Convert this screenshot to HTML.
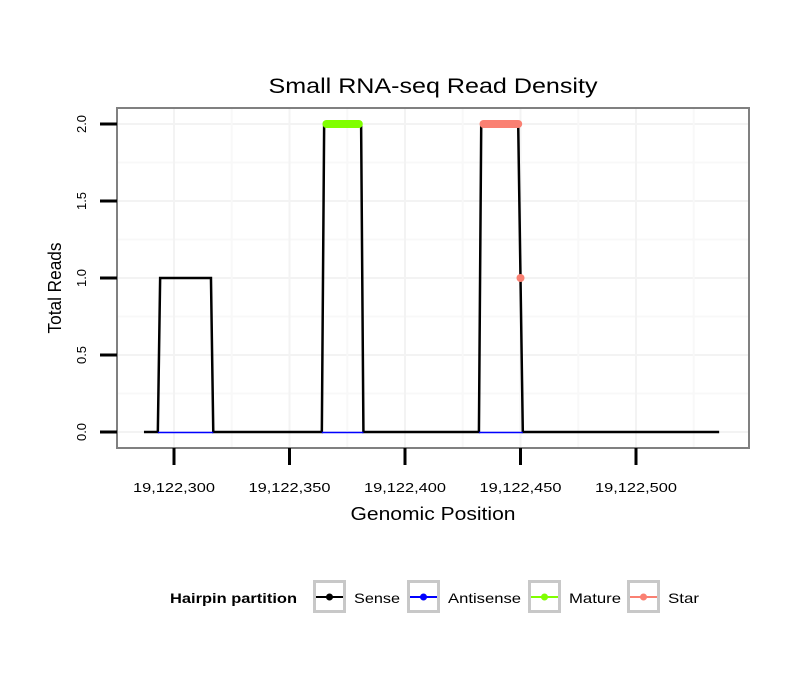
<!DOCTYPE html>
<html><head><meta charset="utf-8"><style>
body{margin:0;background:#fff}
svg text{font-family:"Liberation Sans",sans-serif}
</style></head><body>
<svg width="810" height="690" xmlns="http://www.w3.org/2000/svg">
<rect width="810" height="690" fill="#fff"/>
<text x="433" y="93" font-size="21" text-anchor="middle" textLength="329" lengthAdjust="spacingAndGlyphs">Small RNA-seq Read Density</text>
<g id="grid"></g>
<g id="marks"></g>
<rect x="117" y="108" width="632" height="340" fill="none" stroke="#808080" stroke-width="2"/>
<g id="axes"></g>
<text x="433" y="520" font-size="18" text-anchor="middle" textLength="165" lengthAdjust="spacingAndGlyphs">Genomic Position</text>
<text transform="translate(61,288) rotate(-90)" font-size="18" text-anchor="middle" textLength="91" lengthAdjust="spacingAndGlyphs">Total Reads</text>
<g>
<text x="170" y="603" font-size="14" font-weight="bold" textLength="127" lengthAdjust="spacingAndGlyphs">Hairpin partition</text>
<g id="legend"></g>
</g>
</svg>
<script>
const xTicks=[19122300,19122350,19122400,19122450,19122500];
const xTickLabels=["19,122,300","19,122,350","19,122,400","19,122,450","19,122,500"];
const yTicks=[0,0.5,1,1.5,2];
const yTickLabels=["0.0","0.5","1.0","1.5","2.0"];
const senseX=[19122287,19122293,19122294,19122316,19122317,19122364,19122365,19122381,19122382,19122432,19122433,19122449,19122450,19122451,19122536];
const senseY=[0,0,1,1,0,0,2,2,0,0,2,2,1,0,0];
const antisenseSegs=[[19122293,19122317],[19122364,19122382],[19122432,19122451]];
const matureSegs=[[19122366,19122380]];
const starSegs=[[19122434,19122449]];
const starPointX=[19122450];
const starPointY=[1];
const legendNames=["Sense","Antisense","Mature","Star"];
const legendColors=["#000000","#0000ff","#80ff00","#fa8072"];

const NS="http://www.w3.org/2000/svg";
const xs=v=>174+(v-19122300)*2.31;
const ys=v=>432-v*154;
function mk(tag,attrs,parent){const e=document.createElementNS(NS,tag);for(const k in attrs)e.setAttribute(k,attrs[k]);parent.appendChild(e);return e;}
const grid=document.getElementById('grid'),marks=document.getElementById('marks'),axes=document.getElementById('axes'),leg=document.getElementById('legend');
for(let i=0;i<yTicks.length;i++){
  const l=mk('line',{x1:118,x2:748,y1:ys(yTicks[i]),y2:ys(yTicks[i]),stroke:'#f3f3f3','stroke-width':2},grid);
  
  
}
for(let i=0;i<yTicks.length-1;i++){
  const v=(yTicks[i]+yTicks[i+1])/2;
  const l=mk('line',{x1:118,x2:748,y1:ys(v),y2:ys(v),stroke:'#f8f8f8','stroke-width':2},grid);
  
  
}
for(let i=0;i<xTicks.length;i++){
  const l=mk('line',{y1:109,y2:447,x1:xs(xTicks[i]),x2:xs(xTicks[i]),stroke:'#f3f3f3','stroke-width':2},grid);
  
  
}
for(let i=0;i<=xTicks.length;i++){
  const v=xTicks[0]-25+50*i;const x=xs(v);if(x<118||x>748)continue;
  const l=mk('line',{y1:109,y2:447,x1:x,x2:x,stroke:'#f8f8f8','stroke-width':2},grid);
  
  
}
let d=senseX.map((v,i)=>(i?'L':'M')+xs(v)+','+ys(senseY[i])).join('');
const sp=mk('path',{d:d,fill:'none',stroke:'#000','stroke-width':2.5},marks);


antisenseSegs.forEach(s=>{
  const l=mk('line',{x1:xs(s[0]),x2:xs(s[1]),y1:ys(0)+0.5,y2:ys(0)+0.5,stroke:'#0000ff','stroke-width':1.5},marks);
  
  
});
matureSegs.forEach(s=>{
  const l=mk('line',{x1:xs(s[0]),x2:xs(s[1]),y1:ys(2),y2:ys(2),stroke:'#80ff00','stroke-width':8,'stroke-linecap':'round'},marks);
  
  
});
starSegs.forEach(s=>{
  const l=mk('line',{x1:xs(s[0]),x2:xs(s[1]),y1:ys(2),y2:ys(2),stroke:'#fa8072','stroke-width':8,'stroke-linecap':'round'},marks);
  
  
});
starPointX.forEach((v,i)=>{
  const c=mk('circle',{cx:xs(v),cy:ys(starPointY[i]),r:4,fill:'#fa8072'},marks);
  
  
});
yTicks.forEach((v,i)=>{
  const l=mk('line',{x1:100,x2:117,y1:ys(v),y2:ys(v),stroke:'#000','stroke-width':3},axes);
  
  
  const t=mk('text',{transform:`translate(86,${ys(v)}) rotate(-90)`,'font-size':13,'text-anchor':'middle'},axes);
  t.textContent=yTickLabels[i];
  
  
});
xTicks.forEach((v,i)=>{
  const l=mk('line',{x1:xs(v),x2:xs(v),y1:448,y2:465,stroke:'#000','stroke-width':3},axes);
  
  
  const t=mk('text',{x:xs(v),y:492,'font-size':13,'text-anchor':'middle',textLength:82,lengthAdjust:'spacingAndGlyphs'},axes);
  t.textContent=xTickLabels[i];
  
  
});
const lx=[313,407,528,627];
const lw=[46,73,52,31];
legendNames.forEach((n,i)=>{
  const g=mk('g',{},leg);
  
  
  mk('rect',{x:lx[i]+1.5,y:581.5,width:30,height:30,fill:'#fff',stroke:'#c8c8c8','stroke-width':3},g);
  mk('line',{x1:lx[i]+3,x2:lx[i]+30,y1:597,y2:597,stroke:legendColors[i],'stroke-width':2},g);
  mk('circle',{cx:lx[i]+16.5,cy:597,r:3.5,fill:legendColors[i]},g);
  const t=mk('text',{x:lx[i]+41,y:603,'font-size':14,textLength:lw[i],lengthAdjust:'spacingAndGlyphs'},g);
  t.textContent=n;
});
</script>
</body></html>
